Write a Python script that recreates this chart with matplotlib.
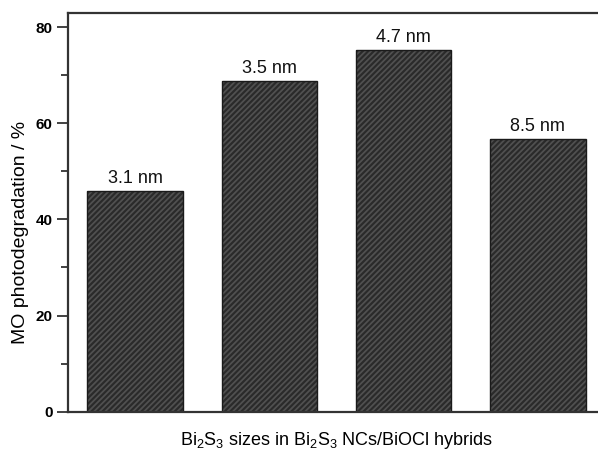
import numpy as np
import matplotlib
matplotlib.use('Agg')
import matplotlib.pyplot as plt

# data
sizes = ['3.1 nm', '3.5 nm', '4.7 nm', '8.5 nm']
degradation = [45.9, 68.8, 75.2, 56.7]

plt.rcParams['font.family'] = ['Liberation Sans', 'DejaVu Sans']
plt.rcParams['mathtext.fontset'] = 'custom'
plt.rcParams['mathtext.rm'] = 'Liberation Sans'
plt.rcParams['hatch.linewidth'] = 1.3

fig = plt.figure(figsize=(5.98, 4.5), dpi=100)
ax = fig.add_axes([68/598, 38.3/450, 537/598, 399/450])

x = np.arange(1, len(sizes)+1)
# hatched fill first, then a plain outline on top
ax.bar(x, degradation, 0.71, color='#2a2a2a', edgecolor='#505050', linewidth=0, hatch='//////')
ax.bar(x, degradation, 0.71, fill=False, edgecolor='#1a1a1a', linewidth=1.0)

for xi, v, s in zip(x, degradation, sizes):
    ax.annotate(s, (xi, v), xytext=(0, 3), textcoords='offset points',
                ha='center', va='bottom', fontsize=13, color='#111111')

ax.set_xlim(0.5, 4.5)
ax.set_ylim(0, 83)
ax.set_yticks([0, 20, 40, 60, 80])
ax.set_yticks([10, 30, 50, 70], minor=True)
ax.set_xticks([])
ax.tick_params(axis='y', which='major', length=8, width=1.3, direction='out', labelsize=11, color='#333333', pad=3)
ax.tick_params(axis='y', which='minor', length=5, width=1.3, direction='out', color='#333333')
for t in ax.get_yticklabels():
    t.set_fontweight('bold')

for sp in ax.spines.values():
    sp.set_linewidth(1.6)
    sp.set_color('#333333')

ax.set_ylabel('MO photodegradation / %', fontsize=14)
ax.yaxis.set_label_coords(-0.072, 0.45)
ax.set_xlabel(r'$\mathregular{Bi_2S_3}$ sizes in $\mathregular{Bi_2S_3}$ NCs/BiOCl hybrids', fontsize=13)
ax.xaxis.set_label_coords(0.5, -0.045)

fig.savefig('out.png', dpi=100)
